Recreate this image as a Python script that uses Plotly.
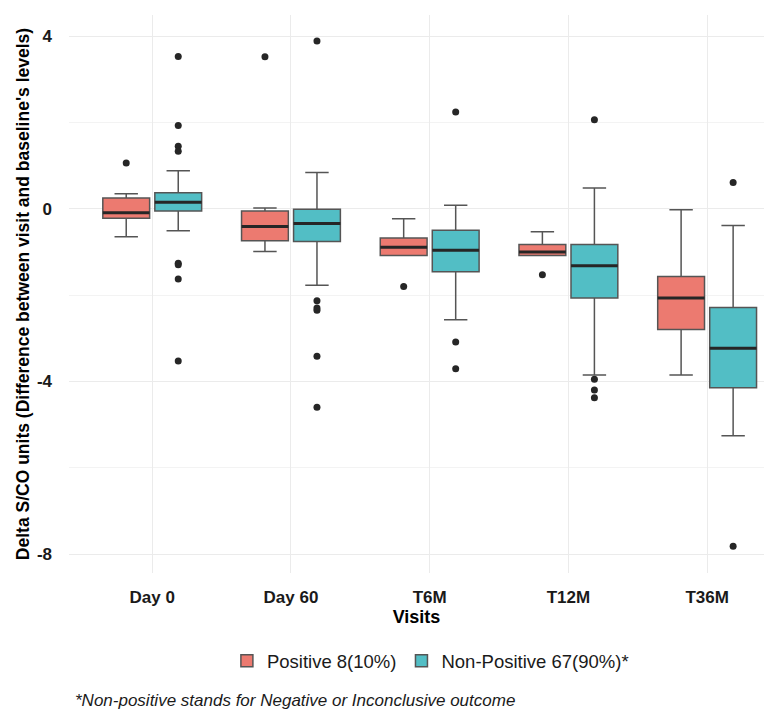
import plotly.graph_objects as go

visits = ["Day 0", "Day 60", "T6M", "T12M", "T36M"]
groups = ["Positive 8(10%)", "Non-Positive 67(90%)*"]

# Positive group box stats
pos_q1 = [-0.22, -0.74, -1.08, -1.08, -2.80]
pos_med = [-0.09, -0.41, -0.89, -1.00, -2.07]
pos_q3 = [0.25, -0.05, -0.68, -0.83, -1.57]
pos_lo = [-0.65, -0.99, -1.08, -1.08, -3.85]
pos_hi = [0.35, 0.02, -0.23, -0.53, -0.02]
pos_out_x = ["Day 0", "Day 60", "T6M", "T12M"]
pos_out_y = [1.06, 3.52, -1.80, -1.53]

# Non-positive group box stats
neg_q1 = [-0.05, -0.76, -1.46, -2.07, -4.15]
neg_med = [0.15, -0.34, -0.96, -1.32, -3.23]
neg_q3 = [0.37, -0.01, -0.50, -0.83, -2.29]
neg_lo = [-0.51, -1.77, -2.57, -3.85, -5.26]
neg_hi = [0.88, 0.84, 0.08, 0.48, -0.39]
neg_out_x = ["Day 0"] * 8 + ["Day 60"] * 6 + ["T6M"] * 3 + ["T12M"] * 4 + ["T36M"] * 2
neg_out_y = [3.53, 1.93, 1.45, 1.33, -1.26, -1.30, -1.63, -3.53,
             3.89, -2.13, -2.30, -2.35, -3.42, -4.60,
             2.24, -3.09, -3.71,
             2.06, -3.95, -4.20, -4.38,
             0.61, -7.82]

y_tickvals = [-8, -4, 0, 4]
y_ticktext = ["-8", "-4", "0", "4"]

colors = ["#EC7A70", "#52BEC5"]
FONT = "Liberation Sans, Arial, Helvetica, sans-serif"

fig = go.Figure()

stats = [
    (pos_q1, pos_med, pos_q3, pos_lo, pos_hi, pos_out_x, pos_out_y),
    (neg_q1, neg_med, neg_q3, neg_lo, neg_hi, neg_out_x, neg_out_y),
]

for i, (q1, med, q3, lo, hi, ox, oy) in enumerate(stats):
    og = "g%d" % i
    fig.add_trace(go.Box(
        x=visits, q1=q1, median=med, q3=q3, lowerfence=lo, upperfence=hi,
        name=groups[i], offsetgroup=og, fillcolor=colors[i],
        line=dict(color="#555555", width=1.5), boxpoints=False,
        showlegend=True, legendrank=i,
    ))
    # thicker median line overlay
    fig.add_trace(go.Box(
        x=visits, q1=med, median=med, q3=med, lowerfence=med, upperfence=med,
        name=groups[i], offsetgroup=og, fillcolor="rgba(0,0,0,0)",
        line=dict(color="#262626", width=3), boxpoints=False,
        showlegend=False, hoverinfo="skip",
    ))
    fig.add_trace(go.Scatter(
        x=ox, y=oy, mode="markers", offsetgroup=og,
        marker=dict(color="#262626", size=7),
        showlegend=False, name=groups[i],
    ))

fig.update_layout(
    width=764, height=709,
    margin=dict(l=69, r=0, t=15, b=136),
    plot_bgcolor="white", paper_bgcolor="white",
    boxmode="group", boxgap=0.25, boxgroupgap=0.1,
    scattermode="group", scattergap=0.25,
    font=dict(family=FONT, color="black"),
    legend=dict(orientation="h", x=0.52, xanchor="center", y=-0.158,
                yanchor="middle", font=dict(size=18.5, color="#1a1a1a"),
                bgcolor="rgba(0,0,0,0)"),
    showlegend=True,
)

fig.update_xaxes(
    type="category", categoryorder="array", categoryarray=visits,
    range=[-0.6, 4.41], showgrid=True, gridcolor="#EBEBEB", gridwidth=1,
    zeroline=False, showline=False, ticks="",
    tickfont=dict(size=17, weight="bold", color="#1a1a1a"), ticklabelstandoff=12,
    title=dict(text="Visits", font=dict(size=18, weight="bold"), standoff=2),
)

fig.update_yaxes(
    range=[-8.44, 4.49], tickvals=y_tickvals, ticktext=y_ticktext,
    showgrid=True, gridcolor="#EBEBEB", gridwidth=1,
    minor=dict(dtick=2, tick0=0, showgrid=True, gridcolor="#F3F3F3", gridwidth=1),
    zeroline=False, showline=False, ticks="",
    tickfont=dict(size=17, weight="bold", color="#1a1a1a"), ticklabelstandoff=16,
    title=dict(text="Delta S/CO units (Difference between visit and baseline's levels)",
               font=dict(size=17.5, weight="bold"), standoff=2),
)

fig.add_annotation(
    text="<i>*Non-positive stands for Negative or Inconclusive outcome</i>",
    xref="paper", yref="paper", x=0.0058, y=-0.2276, xanchor="left", yanchor="middle",
    showarrow=False, font=dict(size=17, color="#1a1a1a"),
)

fig.write_html("out.html")
